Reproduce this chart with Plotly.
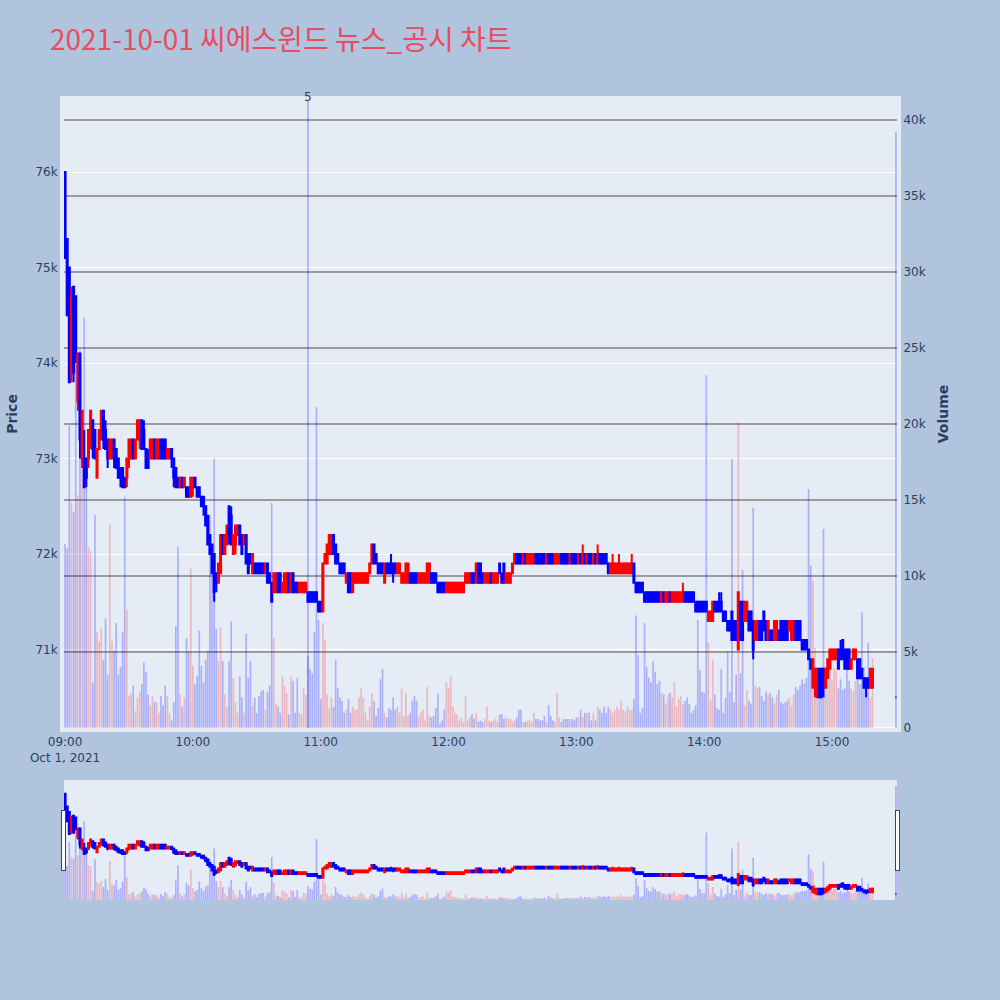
import pandas as pd
import plotly.graph_objects as go
from plotly.subplots import make_subplots

TITLE = "2021-10-01 씨에스윈드 뉴스_공시 차트"
SESSION_START = "2021-10-01 09:00"
CLOSING_AUCTION = "2021-10-01 15:30"
NEWS_TIME = "2021-10-01 10:54"
NEWS_LABEL = "5"

# 1-minute candles, prices in units of 100 KRW (last entry = 15:30 closing auction)
open_100 = [
    760, 753, 750, 739, 748, 747, 736, 741, 730, 730,
    730, 730, 732, 734, 733, 728, 731, 732, 735, 733,
    732, 730, 730, 732, 731, 730, 729, 729, 728, 728,
    730, 730, 732, 730, 732, 732, 734, 733, 731, 730,
    730, 730, 732, 730, 730, 732, 732, 732, 730, 730,
    731, 730, 729, 728, 727, 728, 727, 727, 727, 726,
    727, 728, 727, 727, 726, 726, 725, 724, 722, 721,
    720, 718, 717, 718, 722, 720, 721, 725, 724, 720,
    721, 722, 723, 722, 721, 722, 720, 720, 718, 719,
    719, 719, 719, 719, 718, 719, 718, 717, 716, 716,
    718, 718, 716, 716, 716, 718, 716, 718, 717, 717,
    716, 716, 716, 716, 716, 716, 716, 716, 716, 715,
    715, 714, 719, 719, 720, 720, 722, 721, 720, 719,
    719, 719, 717, 718, 718, 716, 717, 717, 717, 717,
    717, 717, 717, 718, 719, 721, 720, 719, 719, 719,
    717, 719, 719, 719, 719, 719, 718, 718, 717, 717,
    717, 717, 718, 718, 718, 718, 717, 717, 717, 717,
    717, 717, 718, 718, 718, 717, 717, 717, 717, 716,
    716, 716, 716, 716, 716, 716, 716, 716, 717, 717,
    717, 718, 718, 717, 719, 719, 718, 717, 717, 717,
    718, 717, 717, 717, 719, 718, 719, 717, 717, 717,
    718, 719, 720, 720, 720, 719, 720, 719, 719, 719,
    719, 720, 720, 720, 720, 720, 719, 720, 720, 720,
    719, 719, 719, 720, 720, 720, 720, 719, 720, 720,
    720, 719, 720, 719, 720, 719, 720, 720, 719, 720,
    719, 720, 720, 720, 720, 719, 718, 718, 718, 718,
    718, 718, 718, 718, 718, 718, 718, 719, 717, 717,
    717, 717, 716, 716, 716, 716, 716, 716, 716, 716,
    715, 716, 715, 715, 716, 715, 715, 715, 715, 715,
    715, 716, 716, 716, 716, 716, 715, 715, 715, 715,
    715, 715, 713, 713, 713, 715, 715, 715, 715, 714,
    714, 713, 713, 714, 713, 713, 710, 715, 715, 713,
    713, 714, 714, 713, 711, 711, 713, 713, 714, 713,
    711, 712, 712, 711, 711, 712, 713, 713, 713, 713,
    712, 711, 711, 713, 713, 713, 711, 711, 711, 710,
    709, 706, 706, 705, 708, 708, 708, 706, 707, 708,
    709, 709, 709, 710, 710, 711, 710, 710, 710, 708,
    709, 709, 709, 709, 708, 707, 707, 707, 706, 706,
    705,
]
high_100 = [
    760, 753, 750, 748, 748, 747, 741, 741, 735, 733,
    730, 733, 735, 734, 733, 731, 733, 735, 735, 734,
    732, 732, 732, 732, 731, 730, 729, 729, 728, 730,
    732, 732, 732, 732, 734, 734, 734, 734, 731, 731,
    732, 732, 732, 732, 732, 732, 732, 732, 731, 731,
    731, 730, 729, 728, 728, 728, 728, 727, 727, 728,
    728, 728, 727, 727, 726, 726, 725, 724, 722, 721,
    720, 718, 719, 722, 722, 722, 723, 725, 725, 722,
    723, 723, 723, 722, 722, 722, 720, 720, 720, 719,
    719, 719, 719, 719, 719, 719, 718, 717, 718, 718,
    718, 718, 717, 718, 718, 718, 718, 718, 717, 717,
    717, 717, 717, 717, 716, 716, 716, 716, 716, 715,
    715, 719, 720, 721, 722, 722, 722, 721, 720, 719,
    719, 719, 718, 718, 718, 718, 718, 718, 718, 718,
    718, 718, 718, 719, 721, 721, 720, 719, 719, 719,
    719, 719, 719, 720, 719, 719, 719, 719, 718, 718,
    719, 719, 718, 718, 718, 718, 718, 718, 718, 718,
    719, 719, 718, 718, 718, 717, 717, 717, 717, 717,
    717, 717, 717, 717, 717, 717, 717, 717, 718, 718,
    718, 718, 718, 719, 719, 719, 718, 718, 718, 718,
    718, 718, 718, 718, 719, 718, 719, 718, 718, 718,
    719, 720, 720, 720, 720, 720, 720, 720, 720, 720,
    720, 720, 720, 720, 720, 720, 720, 720, 720, 720,
    720, 720, 720, 720, 720, 720, 720, 720, 720, 720,
    720, 720, 720, 721, 720, 720, 720, 720, 720, 720,
    721, 720, 720, 720, 720, 719, 719, 720, 719, 719,
    720, 719, 719, 719, 719, 719, 720, 719, 717, 717,
    717, 717, 716, 716, 716, 716, 716, 716, 716, 716,
    716, 716, 716, 716, 716, 716, 716, 716, 716, 716,
    717, 716, 716, 716, 716, 716, 715, 715, 715, 715,
    715, 715, 714, 714, 715, 715, 715, 716, 716, 714,
    714, 713, 713, 714, 713, 713, 716, 715, 715, 715,
    715, 714, 714, 713, 713, 713, 713, 713, 714, 713,
    713, 712, 712, 713, 713, 712, 713, 713, 713, 713,
    713, 713, 713, 713, 713, 713, 711, 711, 711, 710,
    709, 709, 708, 708, 708, 708, 708, 708, 709, 710,
    710, 710, 710, 710, 711, 711, 710, 710, 710, 709,
    710, 710, 709, 709, 708, 707, 707, 707, 708, 708,
    705,
]
low_100 = [
    751, 745, 738, 738, 738, 740, 735, 730, 729, 727,
    727, 729, 731, 730, 730, 728, 731, 732, 731, 731,
    729, 730, 730, 729, 729, 728, 727, 727, 727, 727,
    729, 730, 730, 730, 732, 731, 731, 731, 729, 729,
    730, 730, 730, 730, 730, 730, 730, 730, 730, 730,
    729, 727, 727, 727, 727, 727, 727, 726, 726, 726,
    726, 727, 726, 726, 725, 724, 723, 721, 720, 718,
    715, 716, 717, 718, 720, 720, 721, 721, 721, 720,
    720, 722, 721, 720, 721, 719, 718, 719, 718, 718,
    718, 718, 718, 718, 718, 717, 717, 715, 716, 716,
    716, 716, 716, 716, 716, 716, 716, 716, 716, 716,
    716, 716, 716, 716, 715, 715, 715, 715, 715, 714,
    714, 714, 719, 719, 720, 720, 720, 719, 719, 718,
    718, 718, 717, 716, 716, 716, 717, 717, 717, 717,
    717, 717, 717, 718, 719, 719, 719, 718, 718, 718,
    717, 718, 718, 718, 717, 718, 718, 718, 717, 717,
    717, 717, 717, 717, 717, 717, 717, 717, 717, 717,
    717, 717, 717, 717, 717, 716, 716, 716, 716, 716,
    716, 716, 716, 716, 716, 716, 716, 716, 717, 717,
    717, 717, 717, 717, 717, 717, 717, 717, 717, 717,
    717, 717, 717, 717, 718, 717, 717, 717, 717, 717,
    718, 719, 719, 719, 719, 719, 719, 719, 719, 719,
    719, 719, 719, 719, 719, 719, 719, 719, 719, 719,
    719, 719, 719, 719, 719, 719, 719, 719, 719, 719,
    719, 719, 719, 719, 719, 719, 719, 719, 719, 719,
    719, 719, 719, 719, 719, 718, 718, 718, 718, 718,
    718, 718, 718, 718, 718, 718, 718, 717, 716, 716,
    716, 716, 715, 715, 715, 715, 715, 715, 715, 715,
    715, 715, 715, 715, 715, 715, 715, 715, 715, 715,
    715, 715, 715, 715, 715, 715, 714, 714, 714, 714,
    714, 714, 713, 713, 713, 714, 714, 714, 714, 713,
    713, 712, 712, 711, 711, 711, 710, 711, 711, 713,
    713, 712, 712, 709, 711, 711, 711, 711, 712, 711,
    711, 711, 711, 711, 711, 711, 711, 711, 711, 711,
    712, 711, 711, 711, 711, 711, 710, 710, 710, 709,
    708, 706, 705, 705, 705, 705, 705, 706, 707, 708,
    709, 709, 709, 708, 709, 709, 708, 708, 708, 708,
    709, 709, 707, 707, 707, 706, 705, 706, 706, 706,
    705,
]
close_100 = [
    751, 745, 738, 747, 739, 741, 741, 732, 735, 727,
    728, 733, 735, 731, 730, 731, 733, 735, 732, 731,
    730, 732, 732, 730, 729, 728, 728, 727, 727, 730,
    732, 732, 730, 732, 734, 734, 731, 731, 729, 729,
    732, 732, 730, 732, 732, 730, 730, 730, 731, 731,
    730, 728, 727, 727, 728, 727, 728, 726, 726, 728,
    728, 727, 726, 726, 725, 725, 723, 721, 720, 718,
    716, 717, 719, 722, 720, 722, 723, 722, 721, 722,
    723, 723, 721, 720, 722, 719, 718, 719, 720, 718,
    718, 718, 718, 718, 719, 717, 717, 715, 718, 718,
    716, 716, 717, 718, 718, 716, 718, 716, 716, 716,
    717, 717, 717, 717, 715, 715, 715, 715, 715, 714,
    714, 719, 720, 721, 722, 722, 720, 719, 719, 718,
    718, 718, 718, 716, 716, 718, 718, 718, 718, 718,
    718, 718, 718, 719, 721, 719, 719, 718, 718, 718,
    719, 718, 718, 718, 718, 718, 719, 719, 718, 718,
    719, 719, 717, 717, 717, 717, 718, 718, 718, 718,
    719, 719, 717, 717, 717, 716, 716, 716, 716, 717,
    717, 717, 717, 717, 717, 717, 717, 717, 718, 718,
    718, 717, 717, 719, 717, 717, 717, 718, 718, 718,
    717, 718, 718, 718, 718, 717, 717, 718, 718, 718,
    719, 720, 719, 719, 719, 720, 719, 720, 720, 720,
    720, 719, 719, 719, 719, 719, 720, 719, 719, 719,
    720, 720, 720, 719, 719, 719, 719, 720, 719, 719,
    719, 720, 719, 720, 719, 720, 719, 719, 720, 719,
    720, 719, 719, 719, 719, 718, 719, 719, 719, 719,
    719, 719, 719, 719, 719, 719, 719, 717, 716, 716,
    716, 716, 715, 715, 715, 715, 715, 715, 715, 715,
    716, 715, 716, 716, 715, 716, 716, 716, 716, 716,
    716, 715, 715, 715, 715, 715, 714, 714, 714, 714,
    714, 714, 714, 714, 715, 714, 714, 714, 714, 713,
    713, 712, 712, 711, 711, 711, 716, 711, 711, 715,
    715, 712, 712, 710, 713, 713, 711, 711, 712, 711,
    713, 711, 711, 713, 713, 711, 711, 711, 711, 711,
    713, 713, 713, 711, 711, 711, 710, 710, 710, 709,
    708, 709, 708, 708, 705, 705, 706, 708, 709, 710,
    710, 710, 710, 708, 709, 709, 708, 708, 708, 709,
    710, 710, 707, 707, 707, 706, 706, 706, 708, 708,
    705,
]
# traded volume per minute, in thousands of shares
volume_k = [
    12.1, 11.8, 19.9, 14.8, 14.2, 26.2, 15.3, 24.9, 17.3, 27.0,
    15.8, 11.9, 11.6, 3.0, 14.0, 6.3, 5.7, 6.6, 4.5, 7.2,
    3.5, 13.4, 5.7, 5.1, 6.9, 3.5, 4.0, 6.3, 15.2, 7.8,
    2.1, 2.3, 2.8, 1.1, 2.0, 2.4, 2.9, 4.3, 3.7, 2.2,
    1.5, 2.1, 1.7, 1.7, 1.0, 2.1, 1.5, 2.8, 2.1, 1.0,
    0.5, 1.7, 6.7, 11.9, 2.2, 1.4, 2.0, 5.9, 5.0, 10.5,
    4.1, 2.9, 3.4, 6.4, 4.1, 3.0, 4.5, 5.1, 14.0, 11.5,
    17.7, 6.5, 4.4, 6.6, 4.4, 2.2, 1.4, 4.4, 7.0, 3.3,
    1.7, 1.0, 3.4, 2.0, 1.0, 6.2, 3.3, 4.4, 1.5, 2.0,
    1.0, 2.1, 2.4, 2.5, 1.2, 2.4, 2.8, 14.8, 5.9, 1.6,
    1.4, 1.0, 3.4, 2.8, 2.3, 0.9, 3.4, 3.1, 1.0, 3.3,
    1.0, 0.9, 2.6, 2.2, 4.7, 3.9, 3.6, 6.3, 21.1, 7.1,
    1.9, 6.9, 5.8, 2.2, 1.3, 2.0, 1.4, 4.5, 2.6, 2.0,
    1.8, 1.0, 1.2, 1.9, 1.0, 1.4, 1.2, 1.2, 2.0, 2.6,
    2.0, 1.0, 0.5, 1.4, 2.3, 1.8, 0.8, 1.3, 3.2, 3.9,
    1.0, 0.7, 1.3, 1.2, 2.0, 1.2, 1.4, 1.0, 2.6, 0.8,
    2.3, 0.8, 1.0, 1.8, 2.1, 1.8, 0.8, 1.0, 1.2, 0.5,
    2.7, 0.8, 0.7, 0.8, 1.3, 2.3, 0.3, 0.5, 1.2, 3.0,
    2.6, 3.4, 1.4, 1.0, 0.9, 0.5, 0.7, 0.4, 2.1, 0.5,
    0.7, 0.9, 0.6, 1.0, 0.4, 0.5, 0.4, 0.6, 1.4, 0.5,
    0.4, 0.5, 0.6, 0.4, 0.9, 0.9, 0.6, 0.7, 0.6, 0.6,
    0.4, 0.5, 0.7, 1.2, 1.2, 0.4, 0.4, 0.5, 0.5, 0.4,
    1.0, 0.6, 0.6, 0.5, 0.5, 0.8, 0.4, 1.5, 0.8, 0.5,
    0.4, 2.3, 0.7, 0.4, 0.6, 0.6, 0.6, 0.6, 0.6, 0.5,
    0.7, 0.7, 1.2, 0.7, 1.0, 1.0, 1.0, 0.5, 1.0, 0.5,
    1.4, 1.2, 1.0, 1.4, 1.0, 1.4, 1.2, 1.0, 1.2, 1.4,
    1.2, 1.8, 1.2, 1.1, 1.4, 1.2, 1.2, 1.9, 7.4, 4.8,
    1.0, 1.3, 6.9, 4.0, 3.3, 3.0, 4.4, 3.7, 2.9, 3.1,
    2.3, 2.2, 1.6, 2.2, 2.3, 2.0, 3.0, 1.4, 1.9, 2.1,
    1.6, 1.8, 2.0, 1.6, 1.0, 1.2, 1.5, 7.1, 3.8, 2.4,
    2.3, 23.2, 5.6, 1.8, 4.5, 2.2, 1.3, 1.2, 3.9, 1.0,
    2.0, 5.0, 2.4, 17.7, 1.7, 3.5, 20.1, 3.6, 10.4, 1.5,
    2.5, 1.8, 1.6, 14.5, 2.8, 2.6, 2.7, 2.1, 1.8, 2.4,
    2.2, 2.3, 2.0, 1.6, 2.2, 2.5, 1.7, 1.6, 1.7, 1.8,
    2.0, 1.5, 2.2, 2.7, 2.5, 2.8, 3.2, 2.9, 3.3, 15.7,
    10.7, 9.7, 5.3, 3.6, 3.3, 3.3, 13.1, 4.0, 3.1, 3.8,
    3.2, 4.0, 3.8, 2.6, 3.2, 2.5, 2.6, 4.0, 3.1, 2.6,
    2.4, 3.1, 3.6, 2.9, 7.6, 4.0, 3.1, 5.6, 2.0, 4.6,
    39.2,
]

# ---- build -------------------------------------------------------------
opens = [v * 100 for v in open_100]
highs = [v * 100 for v in high_100]
lows = [v * 100 for v in low_100]
closes = [v * 100 for v in close_100]
volumes = [round(v * 1000) for v in volume_k]

n_regular = len(open_100) - 1
times = list(pd.date_range(SESSION_START, periods=n_regular, freq="min")) + [pd.Timestamp(CLOSING_AUCTION)]

vol_colors = []
prev_c = None
for o, c in zip(opens, closes):
    up = c > o or (c == o and prev_c is not None and c > prev_c)
    vol_colors.append("rgba(255,0,0,0.22)" if up else "rgba(0,0,255,0.25)")
    prev_c = c

PLOT_BG = "#E5ECF6"
BASE_FONT = "DejaVu Sans"

fig = make_subplots(specs=[[{"secondary_y": True}]])
fig.add_trace(
    go.Candlestick(
        x=times, open=opens, high=highs, low=lows, close=closes,
        increasing=dict(line=dict(color="red"), fillcolor="red"),
        decreasing=dict(line=dict(color="blue"), fillcolor="blue"),
        name="Price", showlegend=False,
    ),
    secondary_y=False,
)
fig.add_trace(
    go.Bar(x=times, y=volumes, marker=dict(color=vol_colors, line=dict(width=0)),
           name="Volume", showlegend=False),
    secondary_y=True,
)

fig.add_shape(type="line", xref="x", yref="paper", x0=NEWS_TIME, x1=NEWS_TIME, y0=0, y1=1,
              line=dict(color="rgba(0,0,255,0.3)", width=1.5))
fig.add_annotation(x=NEWS_TIME, xref="x", y=1, yref="paper", text=NEWS_LABEL, showarrow=False,
                   yanchor="middle", yshift=3, font=dict(size=12, color="#2a3f5f"))

fig.update_layout(
    width=1000, height=1000,
    font=dict(family=BASE_FONT, color="#2a3f5f", size=12),
    paper_bgcolor="lightsteelblue",
    plot_bgcolor=PLOT_BG,
    title=dict(text=TITLE, x=0.05, xanchor="left", y=0.96, yanchor="middle",
               font=dict(family="Noto Sans CJK KR", size=28, color="#E94B5F")),
    margin=dict(l=64, r=103, t=100, b=100),
    showlegend=False,
    bargap=0.2,
)
fig.update_xaxes(
    domain=[0, 1],
    showgrid=False,
    showline=True, mirror=True, linecolor=PLOT_BG, linewidth=4,
    rangeslider=dict(visible=True, thickness=0.15, bgcolor=PLOT_BG),
)
fig.update_yaxes(
    title=dict(text="<b>Price</b>", font=dict(size=14)),
    range=[70179, 76754], gridcolor="white", automargin=False,
    showline=True, mirror=True, linecolor=PLOT_BG, linewidth=4,
    secondary_y=False,
)
fig.update_yaxes(
    title=dict(text="<b>Volume</b>", font=dict(size=14)),
    range=[0, 41300], gridcolor="rgb(155,155,155)", gridwidth=1.5, automargin=False,
    showline=True, linecolor=PLOT_BG, linewidth=4,
    secondary_y=True,
)

fig.write_html("out.html", config={"displayModeBar": False},
               post_script="document.body.style.margin='0';")
